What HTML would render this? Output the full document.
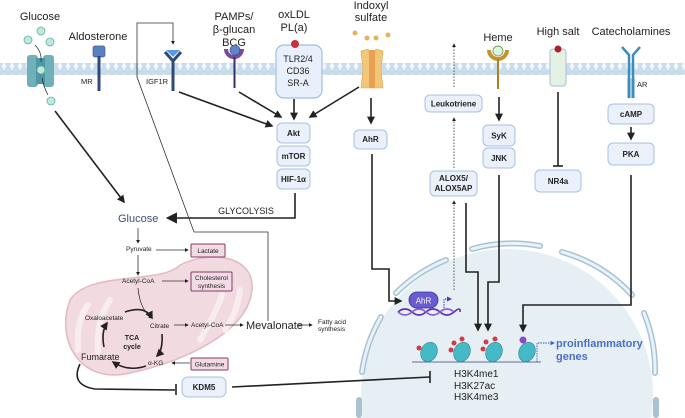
<!DOCTYPE html>
<html><head><meta charset="utf-8"><style>
html,body{margin:0;padding:0;background:#fff;width:685px;height:418px;overflow:hidden}
svg{display:block}
text{font-family:"Liberation Sans",sans-serif;fill:#222}
.b{font-weight:bold;font-size:8px;text-anchor:middle}
.n{fill:#eaf1fb;stroke:#a8c0e2;stroke-width:1}
.ln{stroke:#222;stroke-width:1.6;fill:none}
.th{stroke:#333;stroke-width:0.8;fill:none}
.s{font-size:6.5px}
.pb{fill:#f1dbe4;stroke:#8a3a62;stroke-width:1}
</style></head><body>
<svg width="685" height="418" viewBox="0 0 685 418" xmlns="http://www.w3.org/2000/svg">
<defs>
<marker id="a" viewBox="0 0 10 10" refX="8" refY="5" markerWidth="5" markerHeight="5" orient="auto"><path d="M0,0L10,5L0,10z" fill="#222"/></marker>
<marker id="as" viewBox="0 0 10 10" refX="8" refY="5" markerWidth="7" markerHeight="7" orient="auto"><path d="M0,0L10,5L0,10z" fill="#222"/></marker>
<marker id="ab" viewBox="0 0 10 10" refX="8" refY="5" markerWidth="5" markerHeight="5" orient="auto"><path d="M0,0L10,5L0,10z" fill="#3a5fb5"/></marker>
<marker id="ap" viewBox="0 0 10 10" refX="8" refY="5" markerWidth="5" markerHeight="5" orient="auto"><path d="M0,0L10,5L0,10z" fill="#4b3aa8"/></marker>
<pattern id="mem" width="8" height="12" patternUnits="userSpaceOnUse">
<rect width="8" height="12" fill="#c9dcea"/>
<path d="M4,1.5L6.5,6L4,10.5L1.5,6z" fill="#f2f7fb"/>
</pattern>
</defs>

<!-- nucleus -->
<path d="M362.8,418 A146,146 0 0 1 507,249 A146,146 0 0 1 651.2,418 Z" fill="#e6eff3"/>
<g fill="none" stroke="#a9c2d2" stroke-width="6" stroke-linecap="round">
<path d="M396,293 A150,150 0 0 1 446,260"/>
<path d="M472,249 A150,150 0 0 1 540,246"/>
<path d="M562,252 A150,150 0 0 1 632,295"/>
<path d="M644,313 A150,150 0 0 1 655,373"/>
<path d="M381,317 A150,150 0 0 0 362,372"/>
<path d="M359,400 L359,415"/>
<path d="M656,400 L656,415"/>
</g>
<g fill="none" stroke="#e6f3fb" stroke-width="3" stroke-linecap="round">
<path d="M396,293 A150,150 0 0 1 446,260"/>
<path d="M472,249 A150,150 0 0 1 540,246"/>
<path d="M562,252 A150,150 0 0 1 632,295"/>
<path d="M644,313 A150,150 0 0 1 655,373"/>
<path d="M381,317 A150,150 0 0 0 362,372"/>
</g>

<!-- membrane -->
<rect x="0" y="63" width="685" height="12" fill="url(#mem)"/>

<!-- mitochondrion -->
<path d="M70,300 C90,270 160,285 180,265 C210,250 255,255 252,290 C248,330 190,360 130,373 C80,385 55,340 70,300z" fill="#f2dbe0" stroke="#e3b9c2" stroke-width="1.5"/>
<g stroke="#f9ecef" stroke-width="6" fill="none" stroke-linecap="round">
<path d="M78,350 Q76,320 88,305"/>
<path d="M98,352 Q96,320 110,300"/>
<path d="M200,340 Q215,315 222,295"/>
<path d="M225,330 Q238,310 240,290"/>
</g>

<!-- glucose transporter -->
<rect x="27" y="55" width="11" height="32" rx="3" fill="#6fb0bb"/>
<rect x="43" y="55" width="11" height="32" rx="3" fill="#6fb0bb"/>
<rect x="36" y="58" width="9" height="26" fill="#4f97a3"/>
<g fill="#bfe8de" stroke="#5fb3a5" stroke-width="0.8">
<circle cx="41" cy="31" r="4"/><circle cx="28" cy="40" r="4"/><circle cx="50" cy="42" r="4"/><circle cx="41" cy="70" r="4"/><circle cx="51" cy="101" r="4"/>
</g>
<path d="M35,45 Q42,52 41,62 M42,78 Q44,88 48,95" stroke="#222" stroke-width="0.7" fill="none"/>
<text x="40" y="20" font-size="11" text-anchor="middle">Glucose</text>

<!-- MR -->
<text x="98" y="40" font-size="11" text-anchor="middle">Aldosterone</text>
<rect x="93" y="46" width="12" height="11" rx="2" fill="#5c7fc0" stroke="#3f5f9a" stroke-width="0.7"/>
<rect x="97.5" y="56" width="3" height="35" fill="#2c4a7a"/>
<text x="81" y="84" font-size="7.5">MR</text>

<!-- IGF1R -->
<path d="M166,50 L180,50 L173,57z" fill="#5a9ae0"/>
<path d="M165,52 L173,61 L181,52" stroke="#2c4a7a" stroke-width="3" fill="none"/>
<rect x="171.5" y="60" width="3" height="31" fill="#2c4a7a"/>
<text x="146" y="84" font-size="7.5">IGF1R</text>

<!-- PAMPs -->
<text x="234" y="20" font-size="11" text-anchor="middle">PAMPs/</text>
<text x="234" y="33" font-size="11" text-anchor="middle">β-glucan</text>
<text x="234" y="46" font-size="11" text-anchor="middle">BCG</text>
<path d="M226,49 A8,8 0 0 0 242,49" stroke="#7b4aa0" stroke-width="4" fill="none"/>
<circle cx="235" cy="50" r="5" fill="#5d85c8" stroke="#2c4a7a" stroke-width="0.6"/>
<rect x="233.5" y="57" width="2" height="31" fill="#3b2d6a"/>

<!-- TLR -->
<text x="294" y="18" font-size="11" text-anchor="middle">oxLDL</text>
<text x="294" y="31" font-size="11" text-anchor="middle">PL(a)</text>
<rect x="276" y="45" width="46" height="53" rx="8" fill="#e8f0fb" stroke="#a2bde2" stroke-width="1.2"/>
<circle cx="295" cy="44" r="4" fill="#c8323c"/>
<text x="298" y="62" font-size="9" text-anchor="middle">TLR2/4</text>
<text x="298" y="74" font-size="9" text-anchor="middle">CD36</text>
<text x="298" y="86" font-size="9" text-anchor="middle">SR-A</text>

<!-- Indoxyl sulfate -->
<text x="371" y="9" font-size="11" text-anchor="middle">Indoxyl</text>
<text x="371" y="21" font-size="11" text-anchor="middle">sulfate</text>
<g fill="#e4b45a"><circle cx="355" cy="33" r="2.5"/><circle cx="367" cy="38" r="2.5"/><circle cx="376" cy="38" r="2.5"/><circle cx="388" cy="35" r="2.5"/></g>
<path d="M361,51 L368,49 L372,60 L376,49 L383,51 L381,70 L383,88 L361,88 L363,70z" fill="#f2c77a" stroke="#e2a24a" stroke-width="0.6"/>
<rect x="369" y="50" width="6" height="38" fill="#e8a052"/>

<!-- Heme -->
<text x="498" y="41" font-size="11" text-anchor="middle">Heme</text>
<path d="M489,50 A9,9 0 0 0 507,50" stroke="#c8922a" stroke-width="4" fill="none"/>
<circle cx="498" cy="51" r="5" fill="#dff5d8" stroke="#4b8a3a" stroke-width="0.7"/>
<rect x="497" y="59" width="2" height="30" fill="#b07f22"/>

<!-- High salt -->
<text x="558" y="35" font-size="11" text-anchor="middle">High salt</text>
<rect x="550" y="49" width="16" height="37" rx="3" fill="#e4f2e4" stroke="#a7bfdc" stroke-width="1"/>
<circle cx="558" cy="49" r="3.5" fill="#b0202a"/>

<!-- AR -->
<text x="631" y="35" font-size="11" text-anchor="middle">Catecholamines</text>
<path d="M622,47 L629,55 L629,98 M640,47 L633,55 L633,98" stroke="#3e8dbd" stroke-width="2.5" fill="none"/>
<rect x="627.5" y="78" width="3" height="20" fill="#3e8dbd"/>
<rect x="631.5" y="78" width="3" height="20" fill="#3e8dbd"/>
<text x="637" y="87" font-size="7.5">AR</text>

<!-- boxes -->
<rect class="n" x="277" y="123" width="33" height="20" rx="5"/><text class="b" x="293.5" y="136">Akt</text>
<rect class="n" x="277" y="146" width="33" height="20" rx="5"/><text class="b" x="293.5" y="159">mTOR</text>
<rect class="n" x="277" y="169" width="33" height="20" rx="5"/><text class="b" x="293.5" y="182">HIF-1α</text>
<rect class="n" x="354" y="130" width="33" height="19" rx="5"/><text class="b" x="370.5" y="142">AhR</text>
<rect class="n" x="425" y="95" width="57" height="17" rx="5"/><text class="b" x="453.5" y="106.5">Leukotriene</text>
<rect class="n" x="430" y="171" width="47" height="25" rx="5"/><text class="b" x="453.5" y="181">ALOX5/</text><text class="b" x="453.5" y="191">ALOX5AP</text>
<rect class="n" x="483" y="125" width="32" height="21" rx="5"/><text class="b" x="499" y="138.5">SyK</text>
<rect class="n" x="483" y="148" width="32" height="20" rx="5"/><text class="b" x="499" y="161">JNK</text>
<rect class="n" x="535" y="170" width="46" height="22" rx="5"/><text class="b" x="558" y="184">NR4a</text>
<rect class="n" x="608" y="104" width="46" height="20" rx="5"/><text class="b" x="631" y="117">cAMP</text>
<rect class="n" x="608" y="143" width="46" height="22" rx="5"/><text class="b" x="631" y="157">PKA</text>
<rect class="n" x="182" y="377" width="44" height="20" rx="6" stroke-width="1.3"/><text class="b" x="204" y="390">KDM5</text>

<!-- arrows to Akt -->
<line class="ln" x1="179" y1="92" x2="272" y2="126" marker-end="url(#a)"/>
<line class="ln" x1="239" y1="92" x2="281" y2="117" marker-end="url(#a)"/>
<line class="ln" x1="294" y1="99" x2="294" y2="119" marker-end="url(#a)"/>
<line class="ln" x1="359" y1="87" x2="310" y2="117" marker-end="url(#a)"/>
<line class="ln" x1="55" y1="111" x2="124" y2="202" marker-end="url(#a)"/>
<path class="ln" d="M295,193 L295,218 L168,218" marker-end="url(#as)"/>
<text x="246" y="214" font-size="9" text-anchor="middle">GLYCOLYSIS</text>
<text x="118" y="222" font-size="11" style="fill:#3f4d70">Glucose</text>

<!-- feedback thin line -->
<path class="th" d="M268,321 L268,232 L194,232 L137,77 L137,23 L173,23 L173,44" marker-end="url(#a)"/>

<!-- metabolism -->
<text x="126" y="251" class="s">Pyruvate</text>
<line class="th" x1="138" y1="228" x2="138" y2="243" marker-end="url(#a)"/>
<line class="th" x1="156" y1="250" x2="188" y2="250" marker-end="url(#a)"/>
<rect class="pb" x="191" y="244" width="34" height="13" rx="1"/><text x="208" y="253" class="s" text-anchor="middle">Lactate</text>
<line class="th" x1="138" y1="255" x2="138" y2="275" marker-end="url(#a)"/>
<text x="122" y="283" class="s">Acetyl-CoA</text>
<line class="th" x1="162" y1="281" x2="188" y2="281" marker-end="url(#a)"/>
<rect class="pb" x="191" y="272" width="41" height="19" rx="1"/><text x="211.5" y="280" class="s" text-anchor="middle">Cholesterol</text><text x="211.5" y="288" class="s" text-anchor="middle">synthesis</text>
<path class="th" d="M138,288 Q140,310 152,318" marker-end="url(#a)"/>
<text x="85" y="320" class="s">Oxaloacetate</text>
<text x="150" y="328" class="s">Citrate</text>
<line class="th" x1="174" y1="325" x2="188" y2="325" marker-end="url(#a)"/>
<text x="191" y="327" class="s">Acetyl-CoA</text>
<line class="th" x1="225" y1="325" x2="243" y2="325" marker-end="url(#a)"/>
<text x="246" y="329" font-size="11">Mevalonate</text>
<line class="th" x1="297" y1="325" x2="312" y2="325" marker-end="url(#a)"/>
<text x="318" y="324" class="s">Fatty acid</text><text x="318" y="331" class="s">synthesis</text>
<text x="132" y="340" font-size="7" font-weight="bold" text-anchor="middle">TCA</text>
<text x="132" y="349" font-size="7" font-weight="bold" text-anchor="middle">cycle</text>
<text x="81" y="360" font-size="9">Fumarate</text>
<text x="148" y="365" class="s">α-KG</text>
<rect class="pb" x="191" y="358" width="37" height="12" rx="1"/><text x="209.5" y="366.5" class="s" text-anchor="middle">Glutamine</text>
<line class="th" x1="190" y1="363" x2="172" y2="363" marker-end="url(#a)"/>
<path class="ln" stroke-width="1" d="M125,312 Q145,305 152,318" marker-end="url(#a)"/>
<path class="ln" stroke-width="1" d="M162,334 Q163,350 157,356" marker-end="url(#a)"/>
<path class="ln" stroke-width="1" d="M146,366 Q128,372 113,362" marker-end="url(#a)"/>
<path class="ln" stroke-width="1" d="M104,347 Q101,332 107,323" marker-end="url(#a)"/>
<path class="ln" d="M80,364 Q70,385 95,389 L175,390"/>
<line class="ln" x1="176" y1="384" x2="176" y2="395"/>
<path class="ln" d="M232,387 L430,377"/>
<line class="ln" x1="430" y1="371" x2="430" y2="383"/>

<!-- right side lines -->
<line class="ln" x1="371" y1="98" x2="371" y2="123" marker-end="url(#a)"/>
<path class="ln" d="M372,154 L372,269 L389,269 L389,301 L401,301" marker-end="url(#a)"/>
<line x1="454" y1="290" x2="454" y2="201" stroke="#333" stroke-width="0.8" stroke-dasharray="1.5,1.5" marker-end="url(#a)"/>
<line x1="454" y1="168" x2="454" y2="118" stroke="#333" stroke-width="0.8" stroke-dasharray="1.5,1.5" marker-end="url(#a)"/>
<line x1="454" y1="87" x2="454" y2="44" stroke="#333" stroke-width="0.8" stroke-dasharray="1.5,1.5" marker-end="url(#a)"/>
<path class="ln" d="M466,203 L466,272 L478,272 L478,330" marker-end="url(#a)"/>
<line class="ln" x1="499" y1="97" x2="499" y2="120" marker-end="url(#a)"/>
<path class="ln" d="M499,175 L499,282 L488,282 L488,330" marker-end="url(#a)"/>
<line class="ln" x1="558" y1="92" x2="558" y2="166"/>
<line class="ln" x1="553" y1="166" x2="563" y2="166"/>
<line class="ln" x1="631" y1="127" x2="631" y2="139" marker-end="url(#a)"/>
<path class="ln" d="M631,175 L631,305 L523,305 L523,331" marker-end="url(#a)"/>

<!-- AhR in nucleus + DNA -->
<path d="M398,312 Q405,306 412,312 T426,312 T440,312 T454,312 T460,312" stroke="#5a2fb0" stroke-width="1.6" fill="none"/>
<path d="M398,312 Q405,318 412,312 T426,312 T440,312 T454,312" stroke="#8a5ad8" stroke-width="1.6" fill="none"/>
<rect x="409" y="292" width="29" height="16" rx="8" fill="#6b5bd0" stroke="#40309a" stroke-width="0.8"/>
<text x="423.5" y="303.5" font-size="8" text-anchor="middle" style="fill:#fff">AhR</text>
<path d="M444,308 L444,299 L451,299" stroke="#4b3aa8" stroke-width="1" stroke-dasharray="1.5,1" fill="none" marker-end="url(#ap)"/>

<!-- nucleosomes -->
<line x1="412" y1="362" x2="541" y2="362" stroke="#3a3a7a" stroke-width="0.8"/>
<g fill="#45b9c6" stroke="#2d8a98" stroke-width="0.6">
<ellipse cx="429" cy="352" rx="8" ry="10" transform="rotate(25 429 352)"/>
<ellipse cx="462" cy="352" rx="8" ry="10" transform="rotate(25 462 352)"/>
<ellipse cx="494" cy="352" rx="8" ry="10" transform="rotate(25 494 352)"/>
<ellipse cx="527" cy="352" rx="8" ry="10" transform="rotate(25 527 352)"/>
</g>
<g fill="#d23a48">
<circle cx="419" cy="348" r="2.5"/>
<circle cx="451" cy="350" r="2.5"/><circle cx="454" cy="343" r="2.5"/><circle cx="462" cy="339" r="2.5"/>
<circle cx="483" cy="349" r="2.5"/><circle cx="486" cy="342" r="2.5"/><circle cx="495" cy="339" r="2.5"/>
</g>
<circle cx="523" cy="340" r="3.5" fill="#8a4ac8"/>
<path d="M537,362 L537,343 L554,343" stroke="#3a5fb5" stroke-width="0.9" stroke-dasharray="1.5,1" fill="none" marker-end="url(#ab)"/>
<text x="556" y="347" font-size="11" font-weight="bold" style="fill:#4a6fc4">proinflammatory</text>
<text x="556" y="360" font-size="11" font-weight="bold" style="fill:#4a6fc4">genes</text>
<text x="454" y="377" font-size="10">H3K4me1</text>
<text x="454" y="389" font-size="10">H3K27ac</text>
<text x="454" y="400" font-size="10">H3K4me3</text>
</svg>
</body></html>
